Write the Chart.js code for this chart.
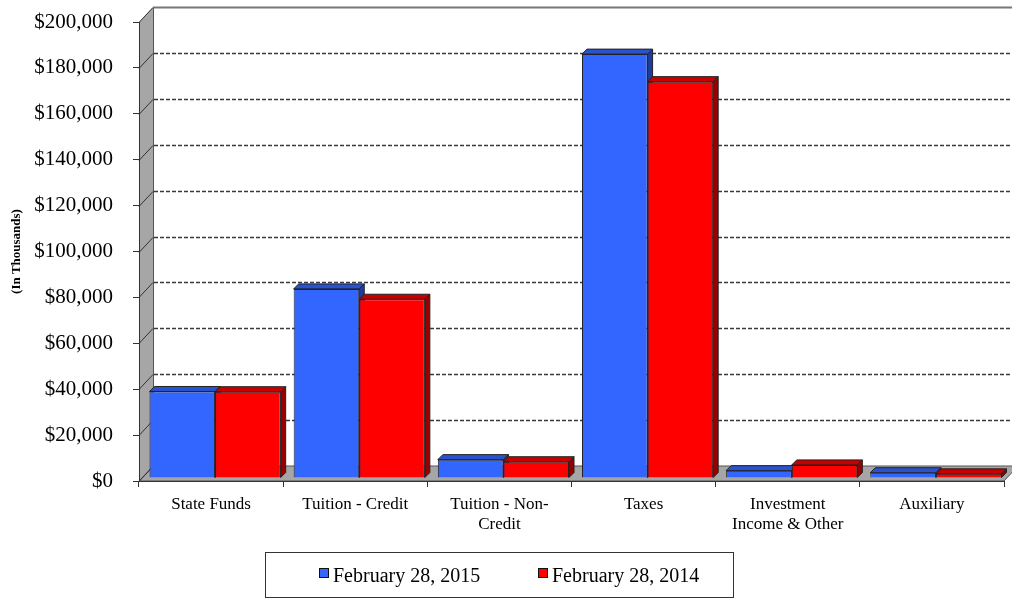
<!DOCTYPE html>
<html>
<head>
<meta charset="utf-8">
<script src="https://cdn.jsdelivr.net/npm/chart.js@4.4.0/dist/chart.umd.min.js"></script>
<style>
  html, body { margin: 0; padding: 0; background: #fff; }
  #wrap { width: 1012px; height: 598px; }
</style>
</head>
<body>
<div id="wrap"><canvas id="myChart" width="1012" height="598"></canvas></div>
<script>
var categories = ['State Funds', 'Tuition - Credit', ['Tuition - Non-', 'Credit'], 'Taxes', ['Investment', 'Income & Other'], 'Auxiliary'];
var series2015 = [37700, 82400, 8000, 184700, 3200, 2300];
var series2014 = [37600, 77900, 7100, 172700, 5700, 1800];
var seriesNames = ['February 28, 2015', 'February 28, 2014'];

var serif = "'Liberation Serif', 'Times New Roman', serif";
var DX = 14, DY = 15;       // wall depth
var BX = 4, BY = 3;         // bar offset into the floor
var BD = 5;                 // bar depth

var faceColors = [
  { front: 'rgb(51,102,255)', top: 'rgb(42,82,205)', side: 'rgb(30,60,160)' },
  { front: 'rgb(255,0,0)', top: 'rgb(200,0,0)', side: 'rgb(150,0,0)' }
];

var wallPlugin = {
  id: 'wall',
  beforeDraw: function(chart) {
    var ctx = chart.ctx, a = chart.chartArea, ys = chart.scales.y;
    ctx.save();
    ctx.fillStyle = '#fff';
    ctx.fillRect(0, 0, chart.width, chart.height);
    // side wall
    ctx.fillStyle = '#a6a6a6';
    ctx.beginPath();
    ctx.moveTo(a.left, a.top);
    ctx.lineTo(a.left + DX, a.top - DY);
    ctx.lineTo(a.left + DX, a.bottom - DY);
    ctx.lineTo(a.left, a.bottom);
    ctx.closePath();
    ctx.fill();
    // floor
    ctx.beginPath();
    ctx.moveTo(a.left, a.bottom);
    ctx.lineTo(a.left + DX, a.bottom - DY);
    ctx.lineTo(a.right + DX, a.bottom - DY);
    ctx.lineTo(a.right, a.bottom);
    ctx.closePath();
    ctx.fill();
    ctx.strokeStyle = '#555';
    ctx.lineWidth = 1;
    ctx.stroke();
    // back wall left edge
    ctx.beginPath();
    ctx.moveTo(a.left + DX + 0.5, a.top - DY);
    ctx.lineTo(a.left + DX + 0.5, a.bottom - DY);
    ctx.stroke();
    // grid lines
    ys.ticks.forEach(function(t) {
      var y = Math.round(ys.getPixelForValue(t.value)) + 0.5;
      ctx.setLineDash([]);
      ctx.strokeStyle = '#333';
      ctx.lineWidth = 1;
      ctx.beginPath();
      ctx.moveTo(a.left, y);
      ctx.lineTo(a.left + DX, y - DY);
      ctx.stroke();
      if (t.value === ys.max) {
        ctx.strokeStyle = '#777';
        ctx.lineWidth = 2;
        ctx.beginPath();
        ctx.moveTo(a.left + DX, y - DY);
        ctx.lineTo(chart.width, y - DY);
        ctx.stroke();
      } else if (t.value > ys.min) {
        ctx.strokeStyle = '#3a3a3a';
        ctx.lineWidth = 1.6;
        ctx.setLineDash([4, 2]);
        ctx.beginPath();
        ctx.moveTo(a.left + DX + 1, y - DY);
        ctx.lineTo(chart.width, y - DY);
        ctx.stroke();
      }
    });
    ctx.restore();
  },
  beforeDatasetsDraw: function(chart) {
    var ctx = chart.ctx;
    ctx.save();
    ctx.translate(BX, -BY);
    chart.data.datasets.forEach(function(ds, i) {
      var c = faceColors[i];
      chart.getDatasetMeta(i).data.forEach(function(bar) {
        var p = bar.getProps(['x', 'y', 'base', 'width'], true);
        var x0 = p.x - p.width / 2, x1 = p.x + p.width / 2, top = p.y, base = p.base;
        ctx.lineWidth = 1;
        ctx.strokeStyle = '#222';
        ctx.fillStyle = c.side;
        ctx.beginPath();
        ctx.moveTo(x1, top);
        ctx.lineTo(x1 + BD, top - BD);
        ctx.lineTo(x1 + BD, base - BD);
        ctx.lineTo(x1, base);
        ctx.closePath();
        ctx.fill();
        ctx.stroke();
        ctx.fillStyle = c.top;
        ctx.beginPath();
        ctx.moveTo(x0, top);
        ctx.lineTo(x1, top);
        ctx.lineTo(x1 + BD, top - BD);
        ctx.lineTo(x0 + BD, top - BD);
        ctx.closePath();
        ctx.fill();
        ctx.stroke();
      });
    });
  },
  afterDatasetsDraw: function(chart) {
    chart.ctx.restore();
  },
  afterDraw: function(chart) {
    var ctx = chart.ctx;
    ctx.save();
    ctx.strokeStyle = '#333';
    ctx.lineWidth = 1;
    ctx.strokeRect(265.5, 552.5, 468, 45);
    ctx.font = '20px ' + serif;
    ctx.textBaseline = 'alphabetic';
    var xs = [319, 538];
    chart.data.datasets.forEach(function(ds, i) {
      ctx.fillStyle = faceColors[i].front;
      ctx.fillRect(xs[i], 568, 10, 10);
      ctx.strokeStyle = '#111';
      ctx.strokeRect(xs[i] + 0.5, 568.5, 9, 9);
      ctx.fillStyle = '#000';
      ctx.fillText(ds.label, xs[i] + 14, 582);
    });
    ctx.restore();
  }
};

var config = {
  type: 'bar',
  data: {
    labels: categories,
    datasets: [{
      label: seriesNames[0],
      data: series2015,
      backgroundColor: faceColors[0].front,
      borderColor: '#222',
      borderWidth: 1
    }, {
      label: seriesNames[1],
      data: series2014,
      backgroundColor: faceColors[1].front,
      borderColor: '#222',
      borderWidth: 1
    }]
  },
  options: {
    animation: false,
    responsive: false,
    maintainAspectRatio: false,
    layout: { padding: { top: 22, right: 8, left: 0, bottom: 0 } },
    datasets: { bar: { categoryPercentage: 0.91, barPercentage: 1 } },
    plugins: { legend: { display: false }, tooltip: { enabled: false } },
    scales: {
      x: {
        grid: { drawOnChartArea: false, tickLength: 6, color: '#333', offset: true },
        border: { color: '#333' },
        ticks: { color: '#000', font: { family: serif, size: 17, lineHeight: 1.15 }, padding: 8, maxRotation: 0, autoSkip: false },
        afterFit: function(s) { s.height = 117; }
      },
      y: {
        min: 0,
        max: 200000,
        grid: { drawOnChartArea: false, tickLength: 6, color: '#333' },
        border: { color: '#333' },
        ticks: {
          stepSize: 20000,
          color: '#000',
          padding: 20,
          font: { family: serif, size: 21 },
          callback: function(v) { return '$' + v.toLocaleString('en-US'); }
        },
        title: {
          display: true,
          text: '(In Thousands)',
          color: '#000',
          font: { family: serif, size: 13, weight: 'bold' },
          padding: { top: 9, bottom: 0 }
        },
        afterFit: function(s) {
          s.width = 139;
          s.paddingTop = 0;
          s.paddingBottom = 0;
        }
      }
    }
  },
  plugins: [wallPlugin]
};

window.onload = function() {
  var ctx = document.getElementById('myChart').getContext('2d');
  window.myBar = new Chart(ctx, config);
};
</script>
</body>
</html>
